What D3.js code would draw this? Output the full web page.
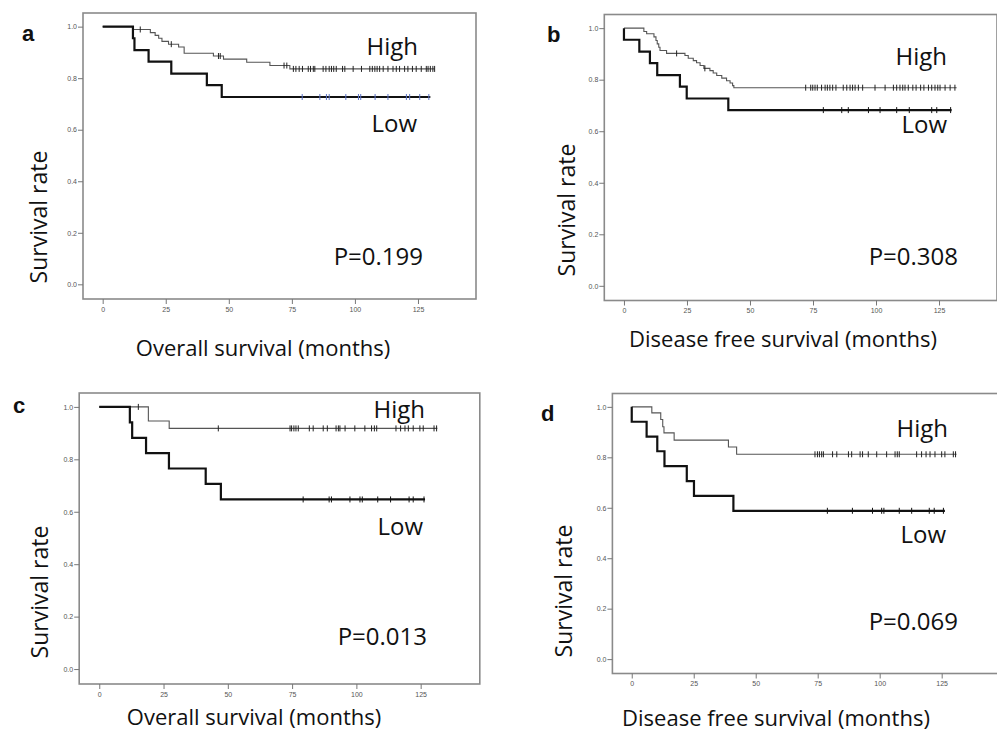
<!DOCTYPE html>
<html>
<head>
<meta charset="utf-8">
<script src="https://cdn.jsdelivr.net/npm/d3@7"></script>
<style>
  body { margin: 0; background: #fff; }
  svg { display: block; }
  .tick text { font-family: "Liberation Sans", Arial, sans-serif; font-size: 7px; fill: #555; }
  .tick line { stroke: #777; }
</style>
</head>
<body>
<svg id="chart" width="997" height="734"></svg>
<script>
// Kaplan-Meier curves: step times (months) and survival levels
const aHighTimes = [0, 11.9, 18.9, 20.8, 22.2, 23.5, 26.1, 30.1, 32.3, 43.9, 47.9, 57.1, 66.3, 74.2];
const aHighSurv = [1, 0.989, 0.977, 0.966, 0.955, 0.943, 0.932, 0.921, 0.897, 0.886, 0.874, 0.862, 0.849, 0.836];
const aHighEnd = 131.6;
const aHighCens = [14.9, 27.2, 45.9, 46.6, 71.9, 73.0, 75.6, 76.6, 77.9, 79.2, 81.5, 82.4, 83.5, 84.1, 87.4, 88.5, 89.8, 90.7, 91.6, 92.6, 95.1, 96.0, 99.3, 102.6, 105.9, 106.9, 107.9, 108.8, 109.8, 111.2, 113.1, 115.1, 116.4, 117.7, 119.7, 121.0, 122.8, 124.3, 126.3, 128.3, 129.0, 129.9, 130.9, 131.6];
const aLowTimes = [0, 12.0, 12.6, 18.2, 27.2, 41.3, 47.2];
const aLowSurv = [1, 0.955, 0.909, 0.864, 0.818, 0.773, 0.727];
const aLowEnd = 129.9;
const aLowCens = [79.1, 86.1, 88.7, 89.8, 96.4, 101.4, 102.3, 108.0, 113.1, 120.4, 121.7, 125.7, 129.3];

const bHighTimes = [0, 7.9, 9.0, 11.9, 12.7, 13.2, 13.8, 14.3, 16.9, 24.2, 25.5, 27.5, 28.8, 30.2, 31.7, 34.1, 35.4, 36.8, 38.8, 40.7, 42.1, 43.1, 43.6];
const bHighSurv = [1, 0.987, 0.978, 0.966, 0.952, 0.939, 0.926, 0.913, 0.902, 0.894, 0.883, 0.874, 0.866, 0.855, 0.844, 0.835, 0.826, 0.816, 0.806, 0.796, 0.787, 0.777, 0.769];
const bHighEnd = 132;
const bHighCens = [20.9, 32.1, 72.1, 74.1, 74.9, 75.8, 76.7, 78.4, 79.8, 80.7, 81.7, 82.8, 84.1, 87.0, 88.4, 89.7, 90.7, 91.7, 93.0, 94.7, 99.6, 103.6, 106.9, 108.2, 109.5, 110.6, 111.5, 112.8, 114.6, 115.9, 117.7, 119.0, 120.8, 122.1, 123.4, 124.5, 125.4, 127.4, 129.4, 131.3];
const bLowTimes = [0, 0, 6.1, 10.3, 13.2, 22.2, 24.9, 41.4];
const bLowSurv = [1, 0.955, 0.909, 0.864, 0.818, 0.773, 0.727, 0.682];
const bLowEnd = 130;
const bLowCens = [79.1, 86.4, 89.0, 97.0, 101.6, 108.2, 113.2, 122.1, 124.1, 129.6];

const cHighTimes = [0, 19.1, 27.2];
const cHighSurv = [1, 0.946, 0.918];
const cHighEnd = 131.5;
const cHighCens = [15.2, 46.3, 74.2, 74.8, 75.7, 76.5, 77.4, 81.7, 83.2, 87.1, 88.7, 92.1, 93.0, 93.6, 95.6, 99.4, 103.3, 105.9, 107.0, 107.9, 115.4, 117.2, 118.9, 120.2, 122.1, 124.7, 126.0, 130.2, 131.2];
const cLowTimes = [0, 11.9, 12.8, 18.2, 27.1, 41.4, 47.3];
const cLowSurv = [1, 0.941, 0.882, 0.824, 0.765, 0.706, 0.647];
const cLowEnd = 126.7;
const cLowCens = [79.3, 89.4, 90.3, 97.5, 101.4, 102.3, 108.3, 113.3, 120.5, 122.1, 126.3];

const dHighTimes = [0, 8.1, 11.7, 12.5, 13.0, 17.1, 39.0, 42.3];
const dHighSurv = [1, 0.976, 0.950, 0.921, 0.897, 0.868, 0.841, 0.812];
const dHighEnd = 131;
const dHighCens = [73.9, 74.9, 75.7, 76.6, 77.3, 81.0, 82.7, 87.4, 88.7, 92.1, 93.1, 95.4, 98.8, 102.8, 106.2, 107.1, 107.9, 114.9, 116.9, 118.7, 120.3, 122.3, 125.0, 126.3, 129.7, 130.6];
const dLowTimes = [0, 0, 6.0, 10.3, 13.2, 22.2, 25.1, 41.0];
const dLowSurv = [1, 0.941, 0.882, 0.824, 0.765, 0.706, 0.647, 0.588];
const dLowEnd = 126.3;
const dLowCens = [78.9, 89.0, 97.1, 100.8, 101.7, 107.9, 112.9, 120.0, 122.0, 125.7];

const xTicks = [0, 25, 50, 75, 100, 125];
const yTicks = [0, 0.2, 0.4, 0.6, 0.8, 1.0];
const panelLetters = ['a', 'b', 'c', 'd'];
const xTitles = ['Overall survival (months)', 'Disease free survival (months)', 'Overall survival (months)', 'Disease free survival (months)'];
const pValues = ['P=0.199', 'P=0.308', 'P=0.013', 'P=0.069'];

const panels = [
  { box: [83, 13, 476, 299], high: [aHighTimes, aHighSurv, aHighEnd, aHighCens], low: [aLowTimes, aLowSurv, aLowEnd, aLowCens], lowCensColor: '#5b73c6',
    letter: [22, 41], ylab: [47, 217], xlab: [263, 356], highLab: [418, 55], lowLab: [417, 132], pLab: [423, 265] },
  { box: [604.3, 14.5, 997, 300.5], high: [bHighTimes, bHighSurv, bHighEnd, bHighCens], low: [bLowTimes, bLowSurv, bLowEnd, bLowCens], lowCensColor: '#111',
    letter: [547, 42], ylab: [575, 210], xlab: [783, 347], highLab: [947, 65], lowLab: [947, 133], pLab: [958, 265] },
  { box: [79.2, 393, 479.8, 684], high: [cHighTimes, cHighSurv, cHighEnd, cHighCens], low: [cLowTimes, cLowSurv, cLowEnd, cLowCens], lowCensColor: '#111',
    letter: [13, 413], ylab: [48, 592], xlab: [254, 725], highLab: [425, 418], lowLab: [423, 535], pLab: [427, 645] },
  { box: [612.4, 393.5, 998.7, 673.5], high: [dHighTimes, dHighSurv, dHighEnd, dHighCens], low: [dLowTimes, dLowSurv, dLowEnd, dLowCens], lowCensColor: '#111',
    letter: [541, 421], ylab: [572, 591], xlab: [776, 726], highLab: [948, 437], lowLab: [946, 543], pLab: [958, 630] }
];

const svg = d3.select('#chart');
svg.append('rect').attr('width', 997).attr('height', 734).attr('fill', '#fff');

const textFont = '"Open Sans", "Noto Sans", sans-serif';

panels.forEach((p, i) => {
  const [x0, y0, x1, y1] = p.box;
  const x = d3.scaleLinear().domain([-7.8, 148]).range([x0, x1]);
  const y = d3.scaleLinear().domain([-0.057, 1.053]).range([y1, y0]);
  const g = svg.append('g');

  // frame
  g.append('rect')
    .attr('x', x0).attr('y', y0)
    .attr('width', x1 - x0).attr('height', y1 - y0)
    .attr('fill', 'none').attr('stroke', '#8a8a8a').attr('stroke-width', 1.6);

  // axes
  const yAxis = g.append('g').attr('transform', `translate(${x0},0)`)
    .call(d3.axisLeft(y).tickValues(yTicks).tickFormat(d3.format('.1f')).tickSize(5).tickPadding(1));
  yAxis.select('.domain').remove();
  const xAxis = g.append('g').attr('transform', `translate(0,${y1})`)
    .call(d3.axisBottom(x).tickValues(xTicks).tickSize(5).tickPadding(3));
  xAxis.select('.domain').remove();

  // step curves
  const line = d3.line().x(d => x(d[0])).y(d => y(d[1])).curve(d3.curveStepAfter);
  function drawCurve(series, color, width, censColor) {
    const [times, surv, end, cens] = series;
    const pts = times.map((t, k) => [t, surv[k]]);
    pts.push([end, surv[surv.length - 1]]);
    g.append('path').datum(pts)
      .attr('fill', 'none').attr('stroke', color).attr('stroke-width', width)
      .attr('d', line);
    const level = t => {
      let s = surv[0];
      times.forEach((tt, k) => { if (tt <= t) s = surv[k]; });
      return s;
    };
    g.append('g').selectAll('line').data(cens).join('line')
      .attr('x1', d => x(d)).attr('x2', d => x(d))
      .attr('y1', d => y(level(d)) - 3).attr('y2', d => y(level(d)) + 3)
      .attr('stroke', censColor).attr('stroke-width', 1);
  }
  drawCurve(p.high, '#555', 1.1, '#222');
  drawCurve(p.low, '#111', 2.2, p.lowCensColor);

  // labels
  svg.append('text').attr('x', p.letter[0]).attr('y', p.letter[1])
    .attr('font-family', '"Liberation Sans", Arial, sans-serif').attr('font-weight', 'bold')
    .attr('font-size', 22).attr('fill', '#111').text(panelLetters[i]);
  svg.append('text')
    .attr('transform', `translate(${p.ylab[0]},${p.ylab[1]}) rotate(-90)`)
    .attr('text-anchor', 'middle').attr('font-family', textFont).attr('font-size', 23)
    .attr('fill', '#111').text('Survival rate');
  svg.append('text').attr('x', p.xlab[0]).attr('y', p.xlab[1])
    .attr('text-anchor', 'middle').attr('font-family', textFont).attr('font-size', 22)
    .attr('fill', '#111').text(xTitles[i]);
  [[p.highLab, 'High'], [p.lowLab, 'Low'], [p.pLab, pValues[i]]].forEach(([pos, txt]) => {
    svg.append('text').attr('x', pos[0]).attr('y', pos[1])
      .attr('text-anchor', 'end').attr('font-family', textFont).attr('font-size', 24)
      .attr('fill', '#111').text(txt);
  });
});
</script>
</body>
</html>
